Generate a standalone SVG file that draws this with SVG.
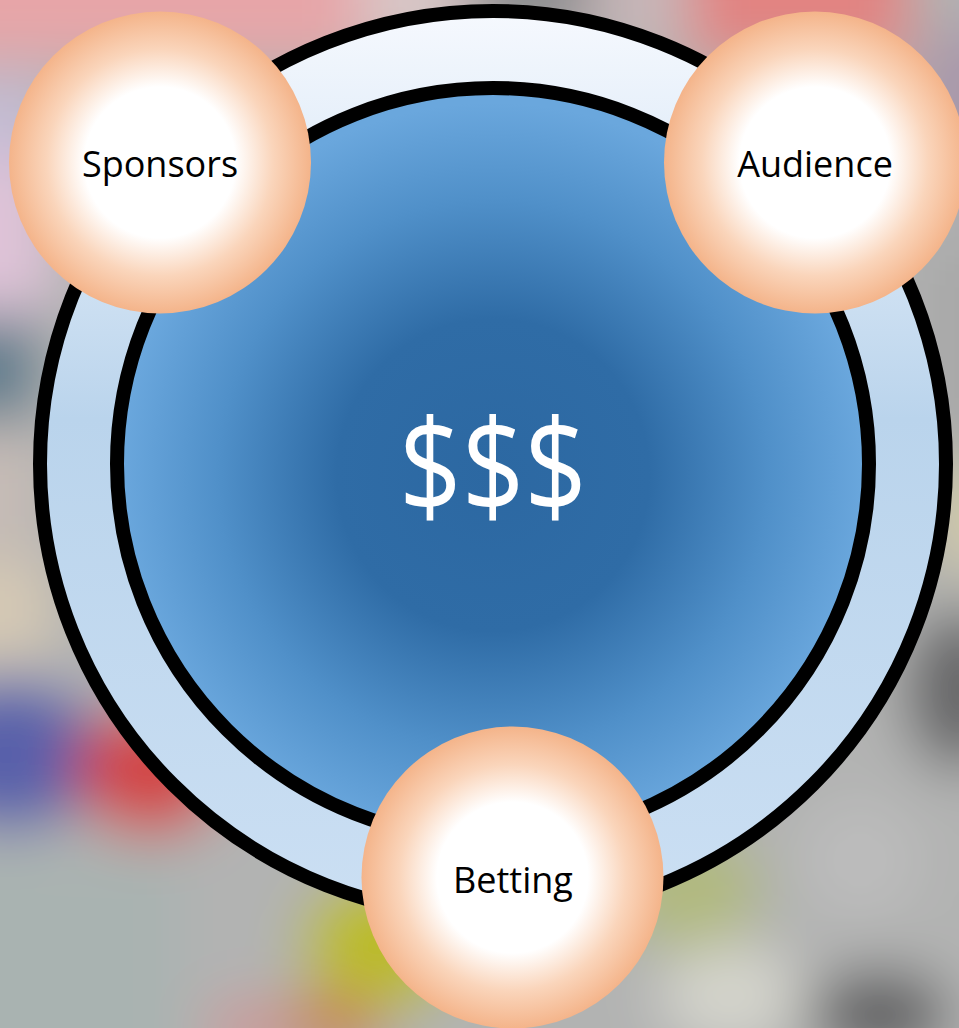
<svg xmlns="http://www.w3.org/2000/svg" width="959" height="1028" viewBox="0 0 959 1028">
  <defs>
    <filter id="soft" filterUnits="userSpaceOnUse" x="-200" y="-200" width="1400" height="1450">
      <feGaussianBlur stdDeviation="28"/>
    </filter>
    <linearGradient id="ringFill" x1="0" y1="0" x2="0" y2="1">
      <stop offset="0" stop-color="#f6f9fe"/>
      <stop offset="0.12" stop-color="#e7f0fa"/>
      <stop offset="0.45" stop-color="#bad4ec"/>
      <stop offset="1" stop-color="#cbdff3"/>
    </linearGradient>
    <radialGradient id="coreFill" cx="493" cy="475" r="372" gradientUnits="userSpaceOnUse">
      <stop offset="0" stop-color="#2c68a2"/>
      <stop offset="0.42" stop-color="#2f6ca6"/>
      <stop offset="0.74" stop-color="#5090c9"/>
      <stop offset="1" stop-color="#6aa7dd"/>
    </radialGradient>
    <radialGradient id="bubbleFill" cx="0.5" cy="0.5" r="0.5">
      <stop offset="0" stop-color="#ffffff"/>
      <stop offset="0.5" stop-color="#ffffff"/>
      <stop offset="0.75" stop-color="#fad5bb"/>
      <stop offset="1" stop-color="#f4b48a"/>
    </radialGradient>
    <style>
      .ring { stroke: #000; stroke-width: 14; }
      .bubble { fill: url(#bubbleFill); }
      .label { font-family: "Open Sans", "Noto Sans", "Liberation Sans", sans-serif; font-size: 36px; fill: #000; text-anchor: middle; }
      .money { font-family: "Open Sans", "Noto Sans", "Liberation Sans", sans-serif; font-size: 130px; fill: #fff; text-anchor: middle; }
    </style>
  </defs>

  <!-- blurred photographic backdrop -->
  <g id="backdrop" filter="url(#soft)">
    <rect x="-150" y="-150" width="1260" height="1330" fill="#b2b3b2"/>
    <rect x="-150" y="-150" width="520" height="210" fill="#e7a5a8"/>
    <rect x="360" y="-150" width="120" height="200" fill="#d8c6c6"/>
    <rect x="470" y="-150" width="120" height="190" fill="#8e8e90"/>
    <rect x="590" y="-150" width="110" height="200" fill="#c6b6b8"/>
    <rect x="690" y="-150" width="220" height="210" fill="#e28381"/>
    <ellipse cx="980" cy="110" rx="70" ry="90" fill="#a898aa"/>
    <rect x="-150" y="80" width="200" height="80" fill="#c4bcd4"/>
    <rect x="-150" y="160" width="200" height="150" fill="#dfc3d8"/>
    <rect x="-150" y="320" width="190" height="100" fill="#5e7b8d"/>
    <rect x="-150" y="430" width="190" height="120" fill="#c6bbb6"/>
    <rect x="-150" y="560" width="200" height="100" fill="#d6c9b4"/>
    <ellipse cx="10" cy="755" rx="95" ry="75" fill="#5860aa"/>
    <ellipse cx="150" cy="770" rx="75" ry="65" fill="#d24747"/>
    <rect x="-150" y="850" width="330" height="320" fill="#a9b3b1"/>
    <ellipse cx="380" cy="945" rx="80" ry="70" fill="#bbbb2c"/>
    <ellipse cx="330" cy="1025" rx="55" ry="35" fill="#c68a58"/>
    <ellipse cx="250" cy="1030" rx="45" ry="30" fill="#cc9898"/>
    <ellipse cx="690" cy="890" rx="70" ry="60" fill="#b1b97f"/>
    <ellipse cx="730" cy="995" rx="70" ry="50" fill="#d4d4cc"/>
    <ellipse cx="880" cy="1015" rx="70" ry="45" fill="#626263"/>
    <ellipse cx="960" cy="690" rx="55" ry="80" fill="#666667"/>
    <ellipse cx="975" cy="515" rx="40" ry="60" fill="#d2caa8"/>
    <rect x="920" y="240" width="200" height="210" fill="#a8a8a8"/>
    <ellipse cx="860" cy="860" rx="60" ry="60" fill="#bcbcbc"/>
  </g>

  <!-- outer band and blue core -->
  <g id="ring">
    <circle class="ring" cx="493" cy="464" r="453" fill="url(#ringFill)"/>
  </g>
  <g id="core">
    <circle class="ring" cx="493" cy="464" r="376" fill="url(#coreFill)"/>
    <text class="money" x="493" y="513" textLength="188" lengthAdjust="spacingAndGlyphs">$$$</text>
  </g>

  <g id="connectors"/>

  <!-- revenue sources -->
  <g id="sponsors">
    <circle class="bubble" cx="160" cy="162.5" r="151"/>
    <text class="label" x="160" y="177">Sponsors</text>
  </g>
  <g id="audience">
    <circle class="bubble" cx="815" cy="162.5" r="151"/>
    <text class="label" x="815" y="177">Audience</text>
  </g>
  <g id="betting">
    <circle class="bubble" cx="512.5" cy="877.5" r="151"/>
    <text class="label" x="513" y="893">Betting</text>
  </g>
</svg>
